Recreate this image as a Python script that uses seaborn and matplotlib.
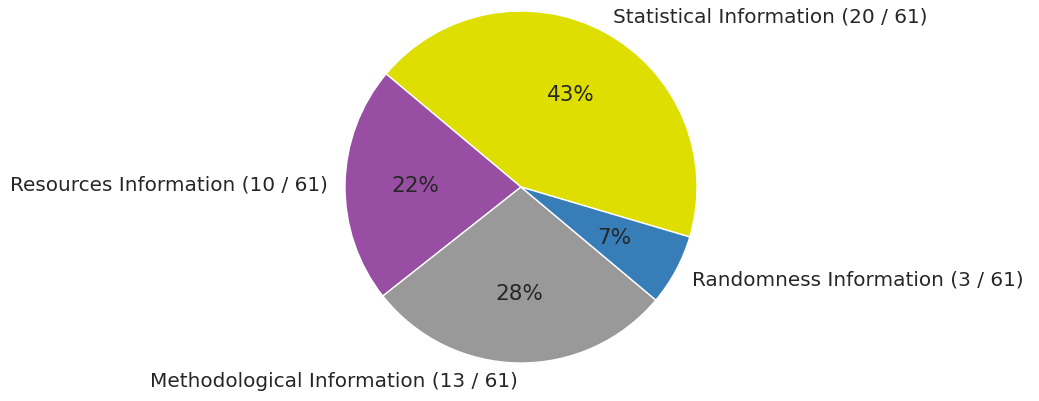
import matplotlib
matplotlib.use("Agg")
import matplotlib.pyplot as plt
import seaborn as sns

# --- Data ---
categories = ["Statistical Information", "Resources Information",
              "Methodological Information", "Randomness Information"]
counts = [20, 10, 13, 3]
total_items = 61
colors = ["#dede00", "#984ea3", "#999999", "#377eb8"]

sns.set_theme(style="white")

W, H, DPI = 1039, 402, 100
fig = plt.figure(figsize=(W / DPI, H / DPI), dpi=DPI)
ax = fig.add_axes([0, 0, 1, 1])

labels = [f"{c} ({n} / {total_items})" for c, n in zip(categories, counts)]
wedges, texts, autotexts = ax.pie(
    counts, labels=labels, colors=colors, autopct="%1.0f%%",
    startangle=-16.5, wedgeprops=dict(edgecolor="white", linewidth=1),
    textprops=dict(fontsize=14.4, color="#262626"),
)
for t in autotexts:
    t.set_fontsize(15.5)

# pie radius ~176 px, centre at (521, 188) from top-left
r_px, cx, cy = 176, 521, 188
ax.set_xlim(-cx / r_px, (W - cx) / r_px)
ax.set_ylim(-(H - cy) / r_px, cy / r_px)
ax.set_aspect("equal", adjustable="datalim")
ax.axis("off")

fig.savefig("out.png", dpi=DPI)
